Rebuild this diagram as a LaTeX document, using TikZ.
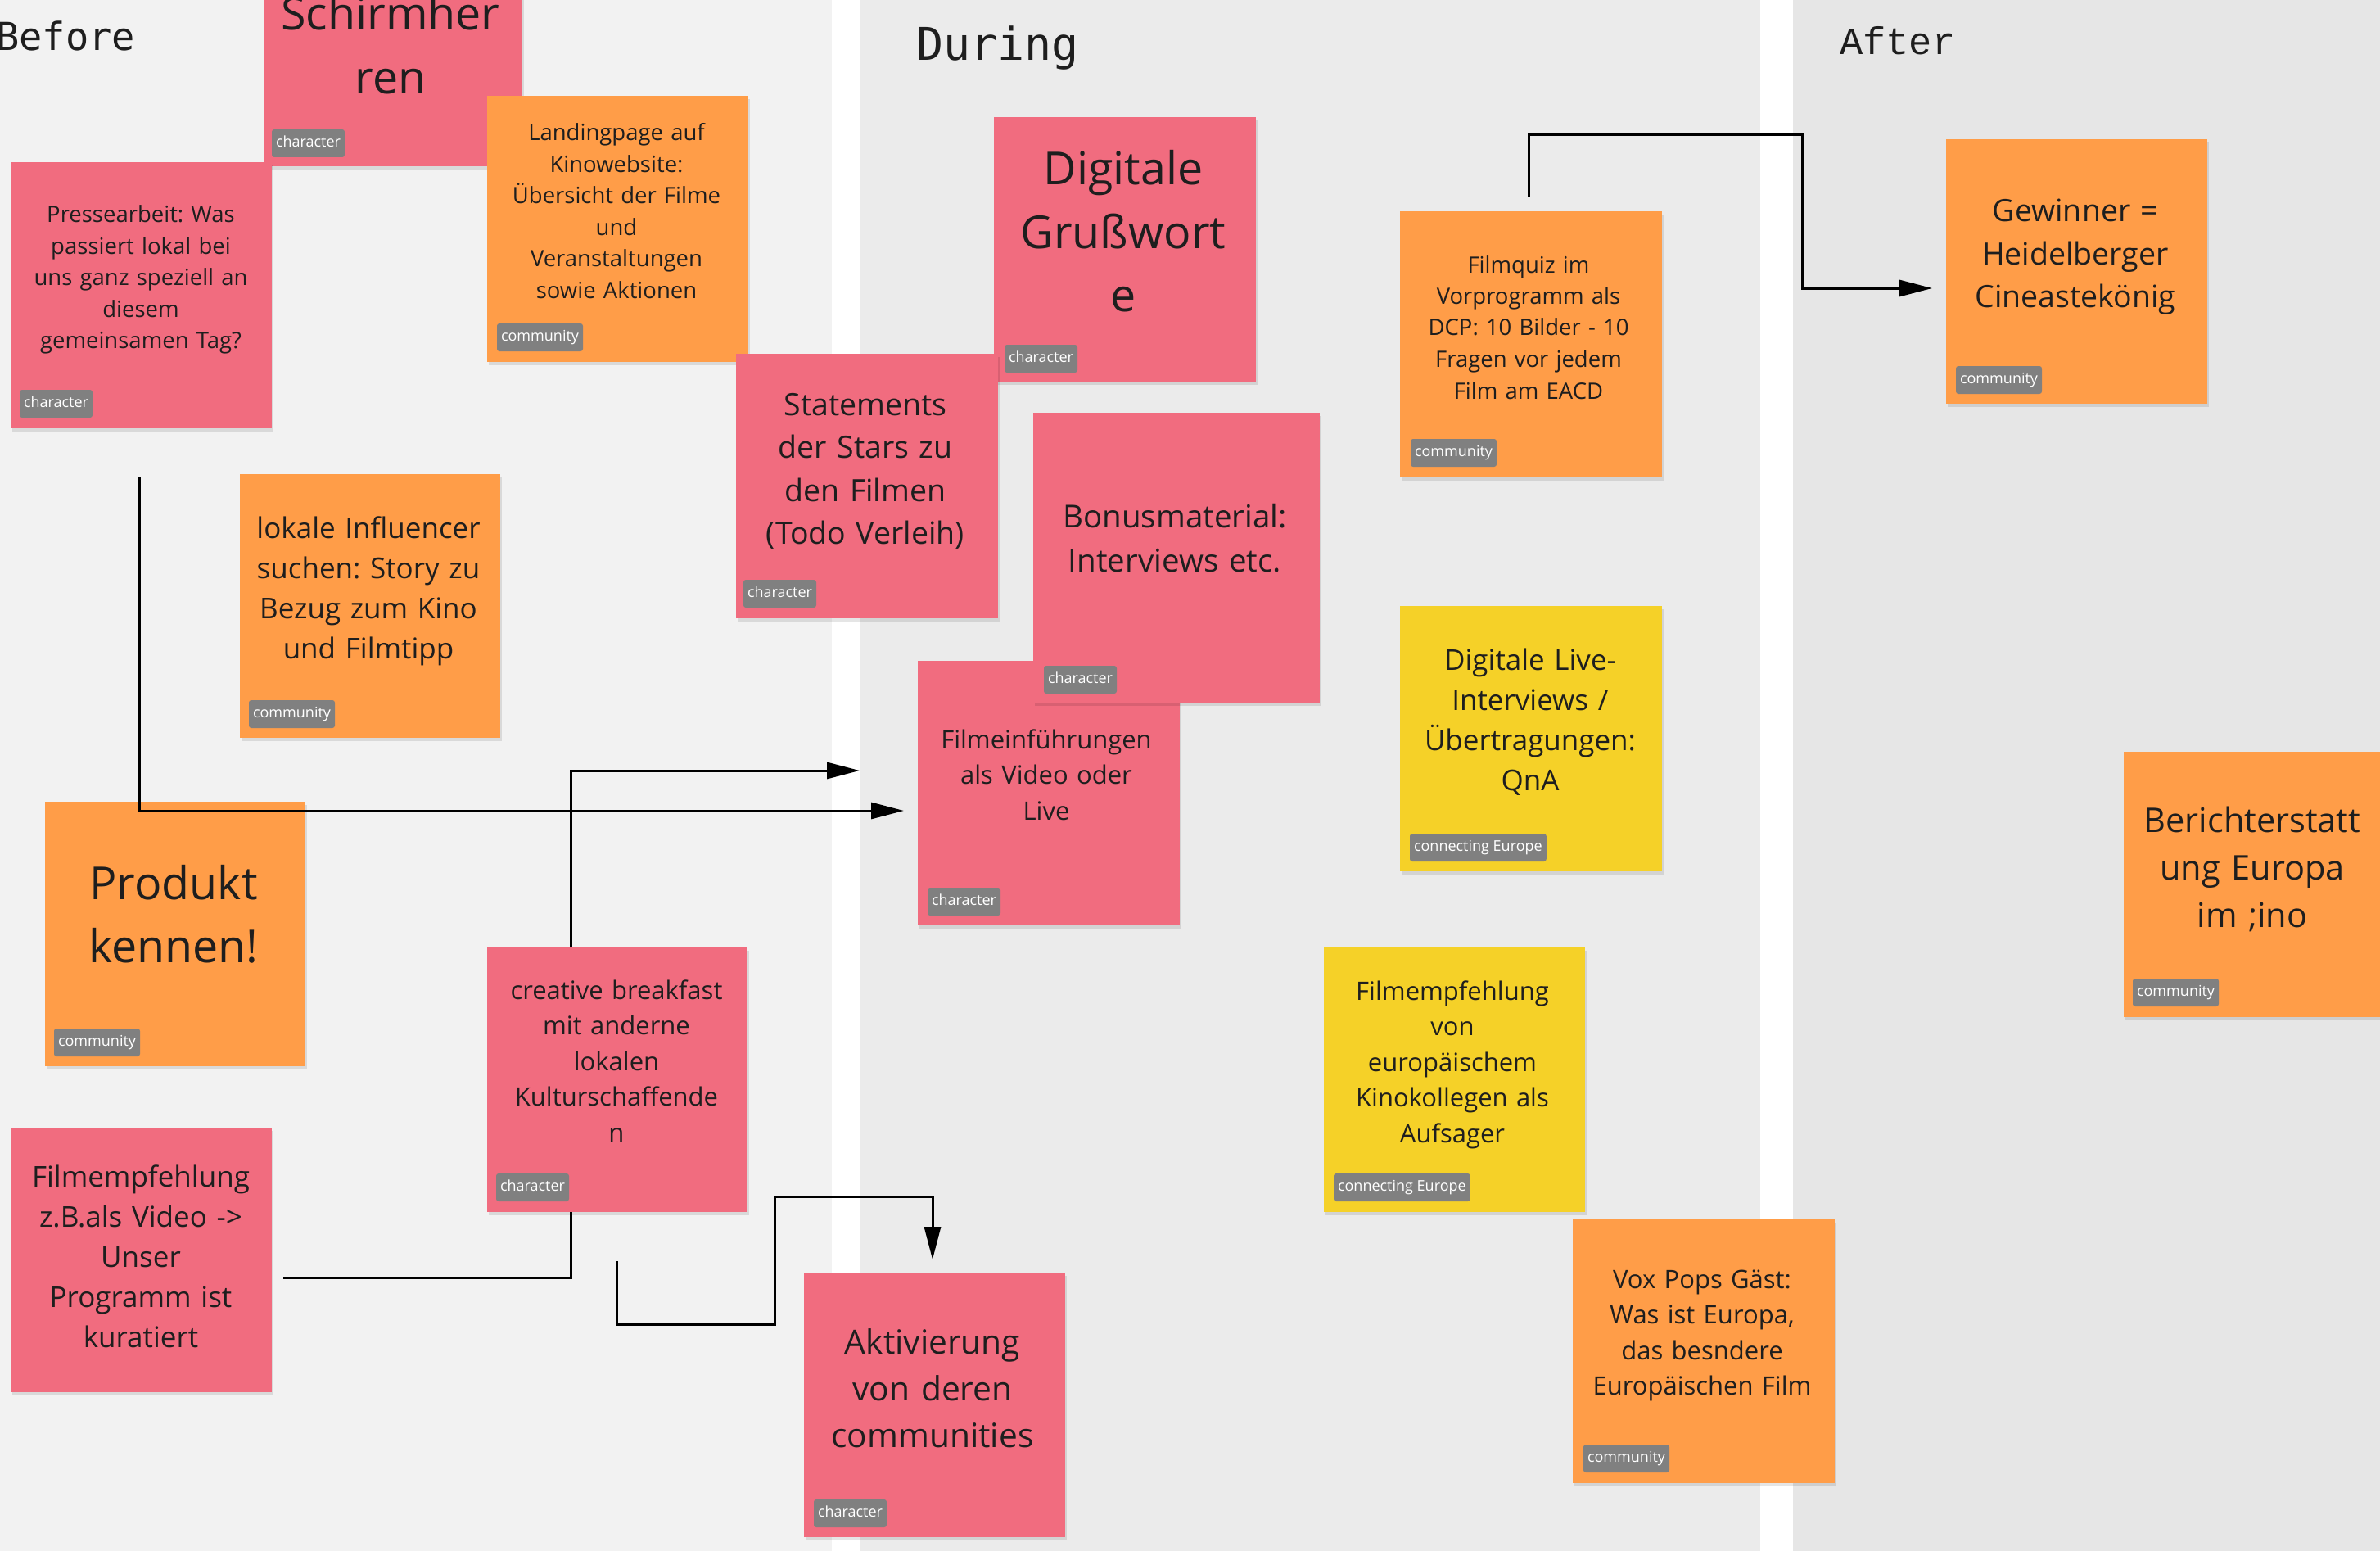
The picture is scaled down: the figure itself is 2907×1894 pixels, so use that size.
\documentclass[tikz,border=0pt]{standalone}
\usepackage{fontspec}
\setmainfont{Open Sans}
\newfontfamily\monoA{DejaVu Sans Mono}
\newfontfamily\monoB{Liberation Mono}
\usetikzlibrary{arrows.meta,shadows}
\frenchspacing
\definecolor{pinkc}{HTML}{F16C7F}
\definecolor{orangec}{HTML}{FF9D48}
\definecolor{yellowc}{HTML}{F5D128}
\definecolor{tagc}{HTML}{808080}
\definecolor{txtc}{HTML}{1E1E1E}
\definecolor{bgA}{HTML}{F2F2F2}
\definecolor{bgB}{HTML}{EBEBEB}
\definecolor{bgC}{HTML}{E6E6E6}
\newcommand\fsA{\fontsize{27.5}{38.5}\selectfont}
\newcommand\fsB{\fontsize{31}{43.5}\selectfont}
\newcommand\fsC{\fontsize{35}{49}\selectfont}
\newcommand\fsD{\fontsize{37.5}{52.5}\selectfont}
\newcommand\fsE{\fontsize{38.5}{54}\selectfont}
\newcommand\fsF{\fontsize{40.7}{57}\selectfont}
\newcommand\fsG{\fontsize{41.5}{58}\selectfont}
\newcommand\fsH{\fontsize{55.5}{77.5}\selectfont}
\tikzset{
  sticky/.style={draw=none, inner sep=0pt, minimum width=320pt, minimum height=324pt,
    drop shadow={shadow xshift=2pt, shadow yshift=-4pt, opacity=0.10, fill=black}},
  stxt/.style={anchor=base, text width=330pt, align=center, inner sep=0pt, text=txtc},
  tag/.style={anchor=south west, fill=tagc, text=white, rounded corners=3pt,
    font=\fontsize{18}{21}\selectfont, inner xsep=5pt, inner ysep=0pt,
    minimum height=34pt, text height=13pt, text depth=4pt},
  conn/.style={line width=3pt, draw=black},
  arr/.style={-{Triangle[length=40pt,width=20pt]}},
  title/.style={anchor=base west, inner sep=0pt, text=txtc}
}
\begin{document}
\begin{tikzpicture}[x=1pt,y=-1pt]
\useasboundingbox (0,0) rectangle (2907,1894);
\fill[white] (0,0) rectangle (2907,1894);
\fill[bgA] (0,0) rectangle (1016,1894);
\fill[bgB] (1050,0) rectangle (2150,1894);
\fill[bgC] (2190,0) rectangle (2907,1894);

\node[title, font=\monoA\fontsize{47}{52}\selectfont] (tbefore) at (-5,62) {Before};
\node[title, font=\monoA\fontsize{55}{62}\selectfont] (tduring) at (1119,74) {During};
\node[title, font=\monoB\fontsize{47}{52}\selectfont] (tafter) at (2247,67) {After};

% Schirmherren
\node[sticky, fill=pinkc, minimum width=316pt] (schirm) at (480,41) {};
\node[stxt, font=\fsH] (schirm-t) at (477,37) {Schirmher\\ren};
\node[tag] (schirm-g) at ([xshift=10pt,yshift=11pt]schirm.south west) {character};

% Pressearbeit
\node[sticky, fill=pinkc, minimum width=319pt, minimum height=325pt] (press) at (172.5,360.5) {};
\node[stxt, font=\fsA] (press-t) at (172,272) {Pressearbeit: Was\\passiert lokal bei\\uns ganz speziell an\\diesem\\gemeinsamen Tag?};
\node[tag] (press-g) at ([xshift=11pt,yshift=13pt]press.south west) {character};

% Landingpage
\node[sticky, fill=orangec, minimum width=319pt, minimum height=325pt] (landing) at (754.5,279.5) {};
\node[stxt, font=\fsA] (landing-t) at (753,172) {Landingpage auf\\Kinowebsite:\\Übersicht der Filme\\und\\Veranstaltungen\\sowie Aktionen};
\node[tag] (landing-g) at ([xshift=12pt,yshift=13pt]landing.south west) {community};

% lokale Influencer
\node[sticky, fill=orangec, minimum width=318pt, minimum height=322pt] (lokale) at (452,740) {};
\node[stxt, font=\fsC] (lokale-t) at (450,657) {lokale Influencer\\suchen: Story zu\\Bezug zum Kino\\und Filmtipp};
\node[tag] (lokale-g) at ([xshift=11pt,yshift=12pt]lokale.south west) {community};

% Produkt kennen
\node[sticky, fill=orangec, minimum width=318pt, minimum height=323pt] (produkt) at (214,1140.5) {};
\node[stxt, font=\fsH] (produkt-t) at (212,1098) {Produkt\\kennen!};
\node[tag] (produkt-g) at ([xshift=11pt,yshift=12pt]produkt.south west) {community};

% creative breakfast
\node[sticky, fill=pinkc, minimum width=318pt, minimum height=323pt] (creative) at (754,1318.5) {};
\node[stxt, font=\fsB] (creative-t) at (753,1220) {creative breakfast\\mit anderne\\lokalen\\Kulturschaffende\\n};
\node[tag] (creative-g) at ([xshift=11pt,yshift=13pt]creative.south west) {character};

% Filmempfehlung z.B.
\node[sticky, fill=pinkc, minimum width=319pt, minimum height=323pt] (filmz) at (172.5,1538.5) {};
\node[stxt, font=\fsC] (filmz-t) at (172,1449) {Filmempfehlung\\z.B.als Video ->\\Unser\\Programm ist\\kuratiert};

% Digitale Grusswort
\node[sticky, fill=pinkc, minimum width=320pt, minimum height=323pt] (gruss) at (1374,304.5) {};
\node[stxt, font=\fsH] (gruss-t) at (1372,226) {Digitale\\Grußwort\\e};
\node[tag] (gruss-g) at ([xshift=13pt,yshift=11pt]gruss.south west) {character};

% Statements
\node[sticky, fill=pinkc, minimum width=320pt, minimum height=323pt] (statements) at (1059,593.5) {};
\node[stxt, font=\fsD] (statements-t) at (1057,507) {Statements\\der Stars zu\\den Filmen\\(Todo Verleih)};
\node[tag] (statements-g) at ([xshift=9pt,yshift=13pt]statements.south west) {character};

% Filmeinfuehrungen
\node[sticky, fill=pinkc, minimum width=320pt, minimum height=323pt] (filmein) at (1281,968.5) {};
\node[stxt, font=\fsB] (filmein-t) at (1278,914) {Filmeinführungen\\als Video oder\\Live};
\node[tag] (filmein-g) at ([xshift=12pt,yshift=12pt]filmein.south west) {character};

% Bonusmaterial
\node[sticky, fill=pinkc, minimum width=350pt, minimum height=354pt] (bonus) at (1437,681) {};
\node[stxt, font=\fsE] (bonus-t) at (1435,644) {Bonusmaterial:\\Interviews etc.};
\node[tag] (bonus-g) at ([xshift=13pt,yshift=11pt]bonus.south west) {character};

% Aktivierung
\node[sticky, fill=pinkc, minimum width=319pt, minimum height=323pt] (aktiv) at (1141.5,1715.5) {};
\node[stxt, font=\fsF] (aktiv-t) at (1139,1653) {Aktivierung\\von deren\\communities};
\node[tag] (aktiv-g) at ([xshift=12pt,yshift=12pt]aktiv.south west) {character};

% Filmquiz
\node[sticky, fill=orangec, minimum width=320pt, minimum height=325pt] (quiz) at (1870,420.5) {};
\node[stxt, font=\fsA] (quiz-t) at (1867,333) {Filmquiz im\\Vorprogramm als\\DCP: 10 Bilder - 10\\Fragen vor jedem\\Film am EACD};
\node[tag] (quiz-g) at ([xshift=13pt,yshift=13pt]quiz.south west) {community};

% Digitale Live-Interviews
\node[sticky, fill=yellowc, minimum width=320pt, minimum height=324pt] (live) at (1870,902) {};
\node[stxt, font=\fsC] (live-t) at (1869,818) {Digitale Live-\\Interviews /\\Übertragungen:\\QnA};
\node[tag] (live-g) at ([xshift=12pt,yshift=12pt]live.south west) {connecting Europe};

% Filmempfehlung EU
\node[sticky, fill=yellowc, minimum width=319pt, minimum height=323pt] (filmeu) at (1776.5,1318.5) {};
\node[stxt, font=\fsB] (filmeu-t) at (1774,1221) {Filmempfehlung\\von\\europäischem\\Kinokollegen als\\Aufsager};
\node[tag] (filmeu-g) at ([xshift=12pt,yshift=13pt]filmeu.south west) {connecting Europe};

% Vox Pops
\node[sticky, fill=orangec, minimum width=320pt, minimum height=322pt] (vox) at (2081,1650) {};
\node[stxt, font=\fsB] (vox-t) at (2079,1573) {Vox Pops Gäst:\\Was ist Europa,\\das besndere\\Europäischen Film};
\node[tag] (vox-g) at ([xshift=13pt,yshift=13pt]vox.south west) {community};

% Gewinner
\node[sticky, fill=orangec, minimum width=319pt, minimum height=323pt] (gewinner) at (2536.5,331.5) {};
\node[stxt, font=\fsD] (gewinner-t) at (2535,271) {Gewinner =\\Heidelberger\\Cineastekönig};
\node[tag] (gewinner-g) at ([xshift=12pt,yshift=12pt]gewinner.south west) {community};

% Berichterstattung
\node[sticky, fill=orangec, minimum width=320pt, minimum height=324pt] (bericht) at (2754,1080) {};
\node[stxt, font=\fsG] (bericht-t) at (2751,1016) {Berichterstatt\\ung Europa\\im ;ino};
\node[tag] (bericht-g) at ([xshift=11pt,yshift=13pt]bericht.south west) {community};

% connectors
\coordinate (a1) at (170,583);
\coordinate (a2) at (1104,990);
\draw[conn, arr] (a1) |- (a2);

\coordinate (b1) at (697,1157);
\coordinate (b2) at (1050,941);
\draw[conn, arr] (b1) |- (b2);

\coordinate (c1) at (346,1560);
\coordinate (c2) at (697,1480);
\draw[conn] (c1) -| (c2);

\coordinate (d1) at (753,1540);
\coordinate (da) at (946,1617);
\coordinate (db) at (1139,1461);
\coordinate (d2) at (1139,1538);
\draw[conn, arr] (d1) |- (da) |- (db) -- (d2);

\coordinate (e1) at (1867,240);
\coordinate (ea) at (2201,165);
\coordinate (e2) at (2360,352);
\draw[conn, arr] (e1) |- (ea) |- (e2);
\end{tikzpicture}
\end{document}
